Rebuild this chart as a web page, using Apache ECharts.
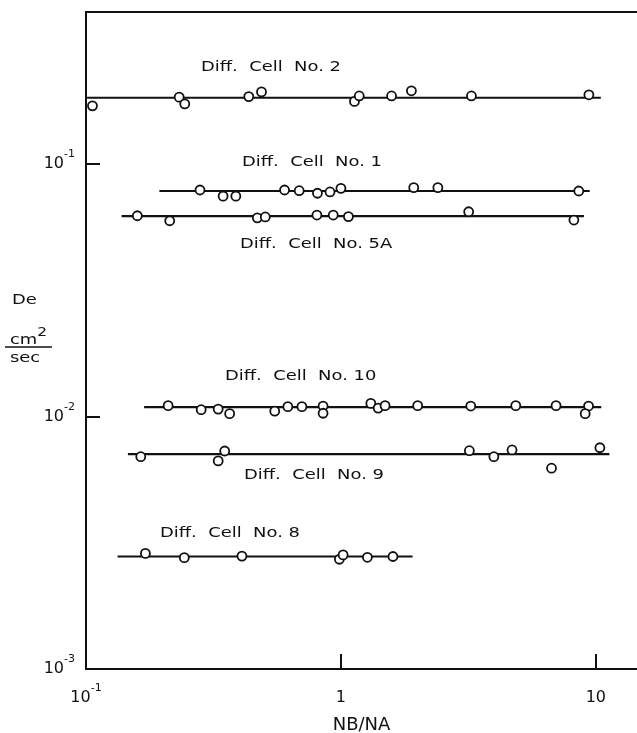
<!DOCTYPE html>
<html>
<head>
<meta charset="utf-8">
<style>
  html, body { margin: 0; padding: 0; background: #fff; }
  #chart { width: 637px; height: 733px; }
</style>
<script src="https://cdn.jsdelivr.net/npm/echarts@6/dist/echarts.min.js"></script>
</head>
<body>
<div id="chart"></div>
<script>
// NB/NA (x) vs De in cm2/sec (y), both log
var cell2X = [0.106, 0.232, 0.244, 0.435, 0.488, 1.13, 1.18, 1.58, 1.89, 3.25, 9.39]
var cell2Y = [0.170, 0.184, 0.173, 0.185, 0.193, 0.177, 0.186, 0.186, 0.195, 0.186, 0.188]
var cell1X = [0.280, 0.345, 0.387, 0.601, 0.686, 0.809, 0.906, 1.00, 1.93, 2.40, 8.57]
var cell1Y = [0.0789, 0.0746, 0.0746, 0.0789, 0.0784, 0.0766, 0.0775, 0.0801, 0.0806, 0.0806, 0.0782]
var cell5aX = [0.159, 0.213, 0.470, 0.505, 0.805, 0.933, 1.07, 3.17, 8.20]
var cell5aY = [0.0624, 0.0596, 0.0612, 0.0617, 0.0628, 0.0628, 0.0619, 0.0647, 0.0600]
var cell10X = [0.210, 0.283, 0.330, 0.366, 0.550, 0.619, 0.703, 0.851, 0.851, 1.31, 1.40, 1.49, 2.00, 3.23, 4.85, 6.98, 9.36, 9.08]
var cell10Y = [0.01104, 0.01064, 0.0107, 0.01026, 0.0105, 0.01094, 0.01094, 0.0110, 0.0103, 0.01127, 0.0108, 0.01104, 0.01104, 0.0110, 0.01104, 0.01104, 0.0110, 0.01026]
var cell9X = [0.164, 0.330, 0.350, 3.19, 3.98, 4.69, 6.70, 10.37]
var cell9Y = [0.00693, 0.00667, 0.00730, 0.00732, 0.00693, 0.00737, 0.00624, 0.00752]
var cell8X = [0.171, 0.243, 0.409, 0.986, 1.02, 1.27, 1.60]
var cell8Y = [0.00287, 0.00276, 0.00280, 0.00272, 0.00283, 0.00277, 0.00279]

// fitted horizontal lines: [x start, x end], level
var fitX = [[0.101, 10.46], [0.194, 9.46], [0.138, 8.98], [0.169, 10.5], [0.146, 11.3], [0.133, 1.91]]
var fitLevel = [0.183, 0.0782, 0.0622, 0.0109, 0.0071, 0.00279]
var cellNames = ['Diff.  Cell  No. 2', 'Diff.  Cell  No. 1', 'Diff.  Cell  No. 5A', 'Diff.  Cell  No. 10', 'Diff.  Cell  No. 9', 'Diff.  Cell  No. 8']

var xTicks = [1, 10]
var xLabelValues = [0.1, 1, 10]
var yTicks = [0.01, 0.1]
var yLabelValues = [0.001, 0.01, 0.1]
var xTickText = { '-1': '{b|10}{s|-1}', '0': '{b|1}', '1': '{b|10}' }
var yTickText = { '-3': '{b|10}{s|-3}', '-2': '{b|10}{s|-2}', '-1': '{b|10}{s|-1}' }

var ink = '#111'
var font = 'DejaVu Sans'
var wide = 1.28 // the lettering on the original is broad

var cellsX = [cell2X, cell1X, cell5aX, cell10X, cell9X, cell8X]
var cellsY = [cell2Y, cell1Y, cell5aY, cell10Y, cell9Y, cell8Y]
// label spots (left, middle) in px
var labelPos = [[201, 67], [242, 162], [240, 244], [225, 376], [244, 475], [160, 533]]

function tickRich () {
  return {
    b: { fontFamily: font, fontSize: 16, color: ink, lineHeight: 30, verticalAlign: 'middle' },
    s: { fontFamily: font, fontSize: 11, color: ink, lineHeight: 12, verticalAlign: 'top' }
  }
}

function powLabel (table) {
  return function (v) {
    var e = Math.log10(v)
    var r = Math.round(e)
    if (Math.abs(e - r) > 1e-6) return ''
    return table[String(r)] || ''
  }
}

var series = []
cellsX.forEach(function (xs, i) {
  series.push({
    type: 'line',
    silent: true,
    showSymbol: false,
    lineStyle: { color: ink, width: 2.2 },
    z: 2,
    data: [[fitX[i][0], fitLevel[i]], [fitX[i][1], fitLevel[i]]]
  })
  series.push({
    type: 'scatter',
    symbol: 'circle',
    symbolSize: 9,
    z: 3,
    itemStyle: { color: '#fff', borderColor: ink, borderWidth: 1.8, opacity: 1 },
    data: xs.map(function (x, j) { return [x, cellsY[i][j]] })
  })
})

function wideText (text, x, y, size) {
  return {
    type: 'text',
    x: x,
    y: y,
    scaleX: wide,
    style: { text: text, font: size + 'px "' + font + '"', fill: ink, verticalAlign: 'middle' }
  }
}

var graphics = cellNames.map(function (name, i) {
  return wideText(name, labelPos[i][0], labelPos[i][1], 14)
})
// y axis title De  cm2/sec
graphics.push(wideText('De', 12, 300, 14))
graphics.push({
  type: 'text',
  x: 10,
  y: 337,
  scaleX: wide,
  style: {
    text: '{a|cm}{s|2}',
    fill: ink,
    verticalAlign: 'middle',
    rich: {
      a: { fontFamily: font, fontSize: 14, lineHeight: 20, verticalAlign: 'bottom' },
      s: { fontFamily: font, fontSize: 12, lineHeight: 14, verticalAlign: 'top' }
    }
  }
})
graphics.push({ type: 'line', shape: { x1: 5, y1: 347, x2: 52, y2: 347 }, style: { stroke: ink, lineWidth: 1.6 } })
graphics.push(wideText('sec', 10, 358, 14))

var option = {
  animation: false,
  backgroundColor: '#fff',
  grid: { left: 86, right: 0, top: 12, bottom: 64, outerBoundsMode: 'none' },
  xAxis: [
    {
      type: 'log',
      logBase: 10,
      min: 0.1,
      max: 14.5,
      name: 'NB/NA',
      nameLocation: 'middle',
      nameGap: 47,
      nameTextStyle: { fontFamily: font, fontSize: 18, color: ink },
      axisLine: { lineStyle: { color: ink, width: 2 } },
      axisTick: { inside: true, length: 15, customValues: xTicks, lineStyle: { color: ink, width: 2 } },
      splitLine: { show: false },
      axisLabel: { margin: 14, customValues: xLabelValues, formatter: powLabel(xTickText), rich: tickRich() }
    },
    {
      // top frame line only
      type: 'value',
      position: 'top',
      min: 0,
      max: 1,
      axisLine: { show: true, lineStyle: { color: ink, width: 2 } },
      axisTick: { show: false },
      axisLabel: { show: false },
      splitLine: { show: false }
    }
  ],
  yAxis: {
    type: 'log',
    logBase: 10,
    min: 0.001,
    max: 0.4,
    axisLine: { lineStyle: { color: ink, width: 2 } },
    axisTick: { inside: true, length: 14, customValues: yTicks, lineStyle: { color: ink, width: 2 } },
    splitLine: { show: false },
    axisLabel: { margin: 11, customValues: yLabelValues, formatter: powLabel(yTickText), rich: tickRich() }
  },
  graphic: graphics,
  series: series
}

var chart = echarts.init(document.getElementById('chart'))
chart.setOption(option)
</script>
</body>
</html>
